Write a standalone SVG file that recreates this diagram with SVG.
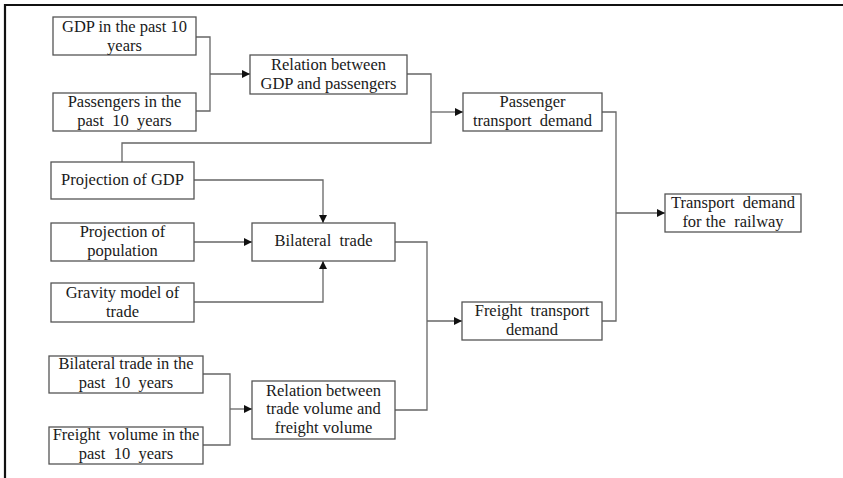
<svg xmlns="http://www.w3.org/2000/svg" width="843" height="478" viewBox="0 0 843 478">
<defs>
<marker id="arr" viewBox="0 0 8 8" refX="8" refY="4" markerWidth="8" markerHeight="8" markerUnits="userSpaceOnUse" orient="auto">
<path d="M0,0 L8,4 L0,8 Z" fill="#111"/>
</marker>
<style>
.box{fill:#fff;stroke:#555;stroke-width:1.3}
.t{font-family:"Liberation Serif","DejaVu Serif",serif;font-size:16.5px;fill:#1a1a1a;text-anchor:middle}
.c{fill:none;stroke:#666;stroke-width:1.3}
.ca{fill:none;stroke:#666;stroke-width:1.3;marker-end:url(#arr)}
</style>
</defs>
<rect x="0" y="0" width="843" height="478" fill="#fff"/>
<path d="M4,5 H843 M5,4 V478" stroke="#111" stroke-width="2.2" fill="none"/>

<g id="connectors">
<path class="c" d="M196,37 H210 V111 H196"/>
<path class="ca" d="M210,74 H250"/>
<path class="c" d="M407,74 H431 V143 H122 V162"/>
<path class="ca" d="M431,112 H463"/>
<path class="c" d="M602,112 H616 V321 H602"/>
<path class="ca" d="M616,213 H665"/>
<path class="ca" d="M194,180 H323 V223"/>
<path class="ca" d="M194,242 H252"/>
<path class="ca" d="M194,302 H323 V261"/>
<path class="c" d="M395,242 H427 V410 H395"/>
<path class="ca" d="M427,321 H462"/>
<path class="c" d="M203,374 H230 V445 H203"/>
<path class="ca" d="M230,409 H252"/>
</g>

<g id="gdp-past">
<rect class="box" x="53" y="17" width="143" height="38"/>
<text class="t" x="124.5" y="32">GDP in the past 10</text>
<text class="t" x="124.5" y="51">years</text>
</g>
<g id="passengers-past">
<rect class="box" x="53" y="93" width="143" height="38"/>
<text class="t" x="124.5" y="107">Passengers in the</text>
<text class="t" x="124.5" y="126" xml:space="preserve">past  10  years</text>
</g>
<g id="relation-gdp">
<rect class="box" x="250" y="55" width="157" height="39"/>
<text class="t" x="328.5" y="70">Relation between</text>
<text class="t" x="328.5" y="89">GDP and passengers</text>
</g>
<g id="passenger-demand">
<rect class="box" x="463" y="93" width="139" height="38"/>
<text class="t" x="532.5" y="107">Passenger</text>
<text class="t" x="532.5" y="126" xml:space="preserve">transport  demand</text>
</g>
<g id="railway-demand">
<rect class="box" x="665" y="194" width="136" height="38"/>
<text class="t" x="733" y="208" xml:space="preserve">Transport  demand</text>
<text class="t" x="733" y="227" xml:space="preserve">for the  railway</text>
</g>
<g id="proj-gdp">
<rect class="box" x="51" y="162" width="143" height="37"/>
<text class="t" x="122.5" y="185">Projection of GDP</text>
</g>
<g id="proj-pop">
<rect class="box" x="51" y="223" width="143" height="38"/>
<text class="t" x="122.5" y="237">Projection of</text>
<text class="t" x="122.5" y="256">population</text>
</g>
<g id="bilateral">
<rect class="box" x="252" y="223" width="143" height="38"/>
<text class="t" x="323.5" y="246" xml:space="preserve">Bilateral  trade</text>
</g>
<g id="gravity">
<rect class="box" x="51" y="283" width="143" height="39"/>
<text class="t" x="122.5" y="298">Gravity model of</text>
<text class="t" x="122.5" y="317">trade</text>
</g>
<g id="freight-demand">
<rect class="box" x="462" y="302" width="140" height="38"/>
<text class="t" x="532" y="316" xml:space="preserve">Freight  transport</text>
<text class="t" x="532" y="335">demand</text>
</g>
<g id="bilateral-past">
<rect class="box" x="49" y="356" width="154" height="37"/>
<text class="t" x="126" y="369">Bilateral trade in the</text>
<text class="t" x="126" y="388" xml:space="preserve">past  10  years</text>
</g>
<g id="freight-past">
<rect class="box" x="49" y="427" width="154" height="37"/>
<text class="t" x="126" y="440" xml:space="preserve">Freight  volume in the</text>
<text class="t" x="126" y="459" xml:space="preserve">past  10  years</text>
</g>
<g id="relation-trade">
<rect class="box" x="252" y="381" width="143" height="58"/>
<text class="t" x="323.5" y="396">Relation between</text>
<text class="t" x="323.5" y="414">trade volume and</text>
<text class="t" x="323.5" y="433">freight volume</text>
</g>
</svg>
